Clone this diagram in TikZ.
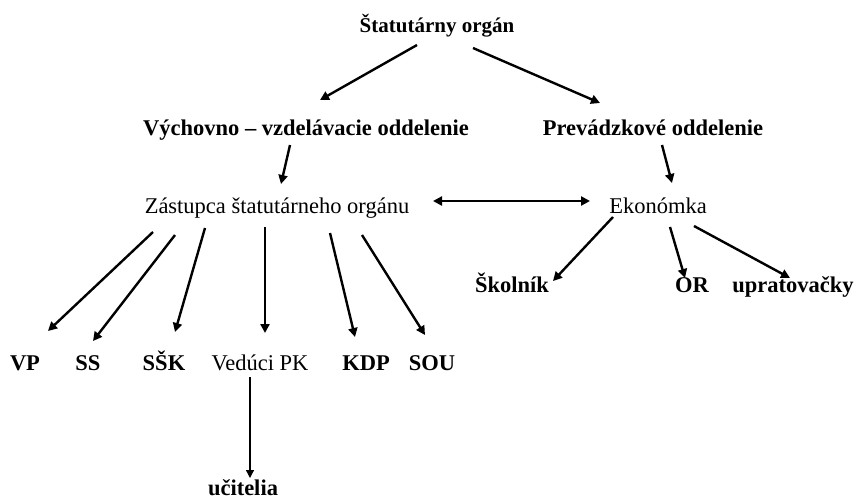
\documentclass[tikz,border=0pt]{standalone}
\usepackage{fontspec}
\setmainfont{Liberation Serif}
\usetikzlibrary{arrows.meta,calc}
\begin{document}
\begin{tikzpicture}[x=1pt,y=-1pt,
  lbl/.style={anchor=base,inner sep=0pt,font=\fontsize{22.5}{26}\selectfont\bfseries},
  lblr/.style={anchor=base,inner sep=0pt,font=\fontsize{22.5}{26}\selectfont},
  arr/.style={line width=2.4pt,-{Triangle[length=9pt,width=9pt]}},
  darr/.style={line width=2.4pt,{Triangle[length=9pt,width=9pt]}-{Triangle[length=9pt,width=9pt]}},
  thin/.style={line width=1.2pt,-{Triangle[length=8pt,width=8pt]}}]
\useasboundingbox (0,0) rectangle (858,499);
\node[lbl,font=\fontsize{21}{24}\selectfont\bfseries] (s) at (437,32) {Štatutárny orgán};
\node[lbl] (v) at (306,135) {Výchovno – vzdelávacie oddelenie};
\node[lbl] (p) at (653,135) {Prevádzkové oddelenie};
\node[lblr] (z) at (277,213) {Zástupca štatutárneho orgánu};
\node[lblr] (e) at (658,213) {Ekonómka};
\node[lbl] (sk) at (512,292) {Školník};
\node[lbl] (or) at (692,292) {OR};
\node[lbl] (up) at (793,292) {upratovačky};
\node[lbl] (vp) at (25,370) {VP};
\node[lbl] (ss) at (88,370) {SS};
\node[lbl] (ssk) at (164,370) {SŠK};
\node[lblr] (ved) at (260,370) {Vedúci PK};
\node[lbl] (kdp) at (366,370) {KDP};
\node[lbl] (sou) at (432,370) {SOU};
\node[lbl] (uc) at (243,495) {učitelia};
\draw[arr] ($(s.base)+(-20,13)$) -- ($(v.base)+(14,-35)$);
\draw[arr] ($(s.base)+(36,16)$) -- ($(p.base)+(-53,-32)$);
\draw[arr] ($(v.base)+(-16,10)$) -- ($(z.base)+(4,-29)$);
\draw[arr] ($(p.base)+(9,10)$) -- ($(e.base)+(14,-30)$);
\draw[darr] ($(z.base)+(156,-12)$) -- ($(e.base)+(-68,-12)$);
\draw[arr] ($(e.base)+(-45,4)$) -- ($(sk.base)+(41,-11)$);
\draw[arr] ($(e.base)+(12,14)$) -- ($(or.base)+(-7,-14)$);
\draw[arr] ($(e.base)+(36,13)$) -- ($(up.base)+(-3,-14)$);
\draw[arr] ($(z.base)+(-124,19)$) -- ($(vp.base)+(23,-39)$);
\draw[arr] ($(z.base)+(-102,22)$) -- ($(ss.base)+(5,-29)$);
\draw[arr] ($(z.base)+(-72,15)$) -- ($(ssk.base)+(11,-38)$);
\draw[arr] ($(z.base)+(-12,14)$) -- ($(ved.base)+(5,-37)$);
\draw[arr] ($(z.base)+(53,20)$) -- ($(kdp.base)+(-11,-33)$);
\draw[arr] ($(z.base)+(85,22)$) -- ($(sou.base)+(-7,-35)$);
\draw[thin] ($(ved.base)+(-10,7)$) -- ($(uc.base)+(7,-17)$);
\end{tikzpicture}
\end{document}
